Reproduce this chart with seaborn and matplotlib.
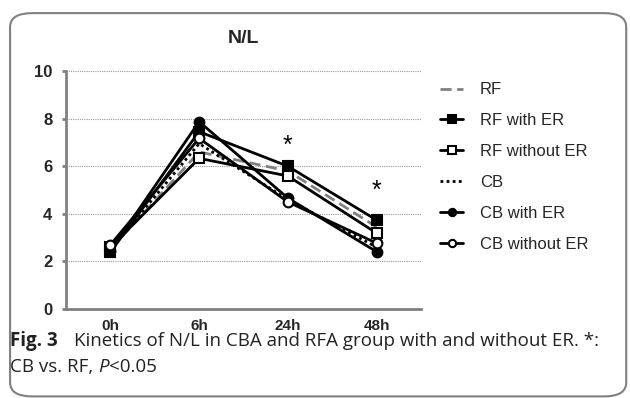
"""
Kinetics of N/L ratio in CBA and RFA groups, with and without ER
"""
import numpy as np
import pandas as pd
import matplotlib.pyplot as plt
from matplotlib.patches import FancyBboxPatch
import seaborn as sns

# ─ Data ─────────────────────────────────────────────────────────── #
timepoints = ["0h", "6h", "24h", "48h"]
rf = [2.5, 6.6, 5.8, 3.45]
rf_with_er = [2.4, 7.45, 6.0, 3.74]
rf_without_er = [2.6, 6.33, 5.59, 3.19]
cb = [2.5, 6.95, 4.6, 2.6]
cb_with_er = [2.45, 7.87, 4.66, 2.41]
cb_without_er = [2.7, 7.17, 4.5, 2.77]
star_times = ["24h", "48h"]
star_levels = [6.85, 4.95]

series_names = ["RF", "RF with ER", "RF without ER", "CB", "CB with ER", "CB without ER"]
series_values = [rf, rf_with_er, rf_without_er, cb, cb_with_er, cb_without_er]

# ─ Styles ───────────────────────────────────────────────────────── #
GRAY = "#808080"
TXT = "#222222"
styles = {
    "RF":            dict(color=GRAY, ls=(0, (4, 2)), marker=None, mfc=None),
    "RF with ER":    dict(color="black", ls="-", marker="s", mfc="black"),
    "RF without ER": dict(color="black", ls="-", marker="s", mfc="white"),
    "CB":            dict(color="black", ls=(0, (1, 1.2)), marker=None, mfc=None),
    "CB with ER":    dict(color="black", ls="-", marker="o", mfc="black"),
    "CB without ER": dict(color="black", ls="-", marker="o", mfc="white"),
}

sns.set_style("white")
plt.rcParams["font.family"] = ["Liberation Sans", "DejaVu Sans"]

fig = plt.figure(figsize=(6.3, 3.98), dpi=100)
ax = fig.add_axes([0.105, 0.2236, 0.563, 0.598])

for name, vals in zip(series_names, series_values):
    st = styles[name]
    df = pd.DataFrame({"time": timepoints, "value": vals})
    kw = dict(marker=st["marker"], markersize=7, markerfacecolor=st["mfc"],
              markeredgecolor="black", markeredgewidth=1.5) if st["marker"] else {}
    sns.lineplot(data=df, x="time", y="value", ax=ax, color=st["color"],
                 linestyle=st["ls"], linewidth=2, label=name, sort=False, **kw)

for t, lv in zip(star_times, star_levels):
    ax.text(timepoints.index(t), lv, "*", ha="center", va="center",
            fontsize=18, color="black")

ax.set_xlim(-0.5, 3.5)
ax.set_ylim(0, 10)
ax.set_yticks([0, 2, 4, 6, 8, 10])
ax.set_xlabel("")
ax.set_ylabel("")
ax.yaxis.grid(True, linestyle=(0, (1, 1)), color="#999999", linewidth=0.8)
ax.xaxis.grid(False)
for s in ["top", "right"]:
    ax.spines[s].set_visible(False)
for s in ["left", "bottom"]:
    ax.spines[s].set_color(GRAY)
    ax.spines[s].set_linewidth(2)
ax.tick_params(axis="y", left=True, length=3, width=2, color=GRAY,
               labelsize=12, pad=7)
ax.tick_params(axis="x", bottom=False, labelsize=11, pad=4)
for lab in ax.get_xticklabels() + ax.get_yticklabels():
    lab.set_fontweight("bold")

ax.set_title("N/L", fontsize=14, fontweight="bold", pad=20)

leg = ax.legend(loc="upper left", bbox_to_anchor=(1.035, 0.98), frameon=False,
                fontsize=12, handlelength=1.4, labelspacing=0.95,
                handletextpad=1.0, borderaxespad=0, markerscale=0.75)

# ─ Caption and frame ────────────────────────────────────────────── #
fig.canvas.draw()
renderer = fig.canvas.get_renderer()


def chain(x, y, s, **kw):
    t = fig.text(x, y, s, fontsize=13.5, family="Open Sans", va="baseline",
                 color=TXT, **kw)
    bb = t.get_window_extent(renderer)
    return bb.x1 / fig.bbox.width


chain(0.016, 0.13, "Fig. 3", fontweight="bold")
chain(0.117, 0.13, "Kinetics of N/L in CBA and RFA group with and without ER. *:")
x = chain(0.016, 0.066, "CB vs. RF, ")
x = chain(x, 0.066, "P", style="italic")
chain(x, 0.066, "<0.05")

frame = FancyBboxPatch((0.016, 0.004), 0.978, 0.963, transform=fig.transFigure,
                       boxstyle="round,pad=0,rounding_size=0.035",
                       fill=False, edgecolor=GRAY, linewidth=1.5, clip_on=False)
fig.patches.append(frame)

fig.savefig("out.png", dpi=100)
